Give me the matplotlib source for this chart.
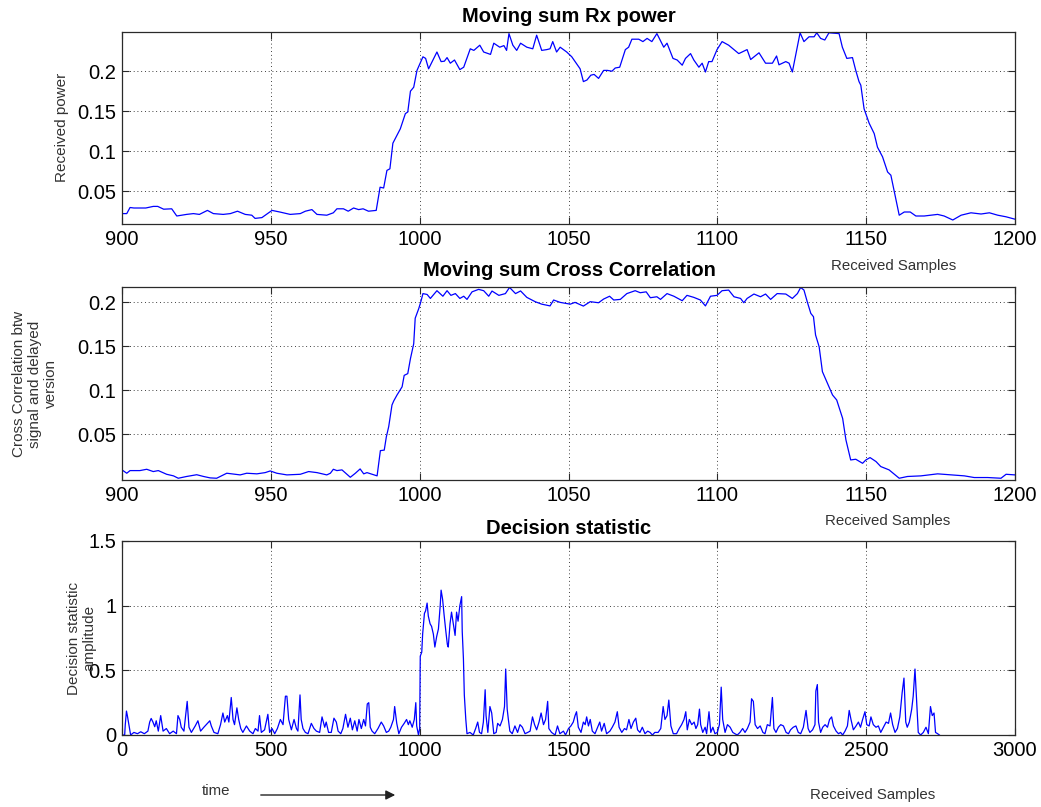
import matplotlib
matplotlib.use("Agg")
import matplotlib.pyplot as plt
from matplotlib.ticker import FuncFormatter

plt.rcParams['font.family'] = ['Liberation Sans', 'DejaVu Sans']

# ---- Moving sum of received power (samples 900..1200) ----
power_samples = [
    900, 901.6, 902.7, 904, 908, 910.5, 912, 914, 916.7, 918.4, 921.7, 924, 926,
    928.7, 930.7, 934, 936.4, 938.8, 941.4, 943.6, 944.7, 947, 950.4, 953, 956.5,
    959.9, 961.6, 963.8, 965.5, 968.8, 971, 972.2, 974.4, 976, 977.8, 979.5, 981,
    982.8, 985.4, 986.7, 987.9, 989, 990, 991, 992.4, 993.5, 995.2, 996, 996.9,
    998, 999.1, 1001.1, 1002, 1003, 1005.8, 1007.2, 1008.3, 1009.2, 1010.3,
    1011.7, 1013.5, 1014.8, 1017, 1018.2, 1020.2, 1021.5, 1023.8, 1024.9, 1026.9,
    1028.3, 1029.2, 1030, 1031.3, 1032.6, 1033.9, 1036, 1038, 1039.3, 1041,
    1042.7, 1043.8, 1044.7, 1046, 1047.2, 1049.4, 1051.1, 1053.9, 1055, 1056.2,
    1057.5, 1058.6, 1060.1, 1061.8, 1063.1, 1064.6, 1065.7, 1067.2, 1069.1,
    1070.2, 1071.3, 1073.6, 1075, 1076.4, 1078, 1079.7, 1082, 1083.1, 1085.1,
    1086.5, 1088.2, 1089.3, 1091, 1092.1, 1093.8, 1094.9, 1096, 1097.1, 1098.2,
    1099.9, 1101.6, 1103.8, 1107.2, 1110, 1111.2, 1114, 1116.2, 1118.5, 1119.9,
    1120.7, 1123, 1124.1, 1125.2, 1126.3, 1127.8, 1129.1, 1130.8, 1132.5,
    1133.4, 1134.7, 1136.1, 1137.5, 1140.9, 1142, 1143.5, 1145.4, 1146.5,
    1147.6, 1148.2, 1149.3, 1151, 1152.7, 1153.8, 1155.5, 1157.2, 1158.3,
    1159.7, 1161.1, 1162.8, 1164.8, 1166.7, 1169.5, 1174, 1176.2, 1179.1,
    1181.9, 1185.2, 1188.6, 1191.4, 1194.2, 1197, 1200,
]
power_values = [
    0.022, 0.022, 0.0296, 0.029, 0.029, 0.031, 0.031, 0.0275, 0.028, 0.019,
    0.021, 0.022, 0.021, 0.026, 0.022, 0.021, 0.022, 0.025, 0.021, 0.020, 0.016,
    0.017, 0.026, 0.024, 0.021, 0.022, 0.025, 0.027, 0.021, 0.020, 0.023, 0.028,
    0.028, 0.025, 0.029, 0.027, 0.028, 0.025, 0.026, 0.055, 0.054, 0.076, 0.078,
    0.110, 0.120, 0.128, 0.147, 0.149, 0.175, 0.180, 0.201, 0.218, 0.216, 0.203,
    0.224, 0.212, 0.2125, 0.217, 0.210, 0.214, 0.202, 0.205, 0.228, 0.226,
    0.2325, 0.224, 0.221, 0.235, 0.230, 0.232, 0.226, 0.247, 0.2325, 0.226,
    0.235, 0.230, 0.228, 0.245, 0.226, 0.227, 0.228, 0.237, 0.224, 0.230, 0.224,
    0.218, 0.203, 0.187, 0.189, 0.195, 0.196, 0.191, 0.201, 0.201, 0.200, 0.204,
    0.205, 0.227, 0.230, 0.240, 0.240, 0.237, 0.241, 0.237, 0.247, 0.230, 0.235,
    0.216, 0.214, 0.2075, 0.216, 0.222, 0.214, 0.205, 0.210, 0.199, 0.212,
    0.212, 0.227, 0.237, 0.2325, 0.222, 0.227, 0.2146, 0.223, 0.210, 0.210,
    0.219, 0.208, 0.212, 0.210, 0.199, 0.220, 0.248, 0.237, 0.243, 0.243, 0.248,
    0.241, 0.239, 0.248, 0.247, 0.230, 0.216, 0.217, 0.201, 0.187, 0.1825,
    0.153, 0.135, 0.122, 0.105, 0.093, 0.074, 0.070, 0.045, 0.020, 0.024, 0.024,
    0.019, 0.019, 0.021, 0.019, 0.014, 0.020, 0.023, 0.0215, 0.023, 0.020,
    0.018, 0.015,
]

# ---- Moving sum of cross correlation with the delayed copy ----
xcorr_samples = [
    900, 901.6, 902.7, 906, 908.3, 910.5, 912.2, 915, 917.3, 918.9, 921.7, 925.1,
    927.4, 929.6, 931.8, 935.2, 939.7, 941.9, 945.3, 948.1, 949.8, 952, 955.4,
    959.9, 962.7, 965.5, 968.8, 970, 971, 972.2, 973.9, 976.7, 978.4, 980,
    981.2, 982.3, 985.7, 986.8, 988.1, 988.8, 989.6, 990.7, 991.3, 992.4,
    994.1, 994.8, 996, 996.9, 998, 998.5, 999.7, 1000.4, 1001.1, 1002.5,
    1003.6, 1005.8, 1007.8, 1009.2, 1010.5, 1012, 1013.5, 1014.8, 1015.9,
    1017.6, 1019.8, 1021.5, 1023.2, 1024.3, 1026.6, 1028.8, 1030.2, 1032.2,
    1033.9, 1036, 1038.8, 1041, 1043.8, 1045, 1047.2, 1050.6, 1052.2, 1055,
    1057.3, 1060.1, 1061.8, 1063.8, 1065.2, 1067.4, 1069.6, 1072.4, 1074.1,
    1076.1, 1077.5, 1079.7, 1080.9, 1083.1, 1085.4, 1088.2, 1089.8, 1092.1,
    1094.3, 1096, 1097.7, 1099.9, 1101.6, 1103.8, 1105.6, 1107.8, 1108.9, 1110,
    1112.3, 1114.5, 1116.2, 1117.9, 1120.1, 1123, 1125.2, 1126.9, 1128,
    1129.1, 1130.2, 1131.4, 1132.3, 1133, 1134.2, 1135.3, 1137, 1138.7, 1140.1,
    1142.1, 1143.2, 1144.8, 1146.5, 1148.8, 1149.9, 1151.3, 1153.3, 1154.9,
    1157.7, 1161.1, 1163.9, 1168.4, 1174, 1178.5, 1183, 1186.3, 1190.8,
    1195.3, 1197, 1200,
]
xcorr_values = [
    0.0095, 0.0057, 0.0087, 0.0087, 0.0102, 0.0076, 0.0087, 0.0045, 0.0027,
    0.0, 0.002, 0.004, 0.002, 0.0004, 0.0, 0.0057, 0.0038, 0.0057, 0.005,
    0.0064, 0.0083, 0.0057, 0.0038, 0.0045, 0.0076, 0.0064, 0.0038, 0.0057,
    0.0102, 0.0087, 0.0095, 0.0011, 0.0057, 0.0106, 0.005, 0.0064, 0.0027,
    0.0314, 0.032, 0.047, 0.0587, 0.0833, 0.088, 0.0947, 0.104, 0.117, 0.119,
    0.136, 0.153, 0.182, 0.193, 0.2008, 0.210, 0.209, 0.2045, 0.2133, 0.207,
    0.2133, 0.208, 0.210, 0.2045, 0.207, 0.2034, 0.212, 0.2148, 0.2133, 0.207,
    0.2129, 0.208, 0.210, 0.217, 0.210, 0.213, 0.2057, 0.2008, 0.198, 0.196,
    0.2027, 0.200, 0.198, 0.200, 0.1958, 0.2008, 0.1996, 0.2038, 0.207, 0.2027,
    0.2034, 0.210, 0.2133, 0.211, 0.212, 0.2053, 0.2064, 0.2034, 0.210, 0.207,
    0.2019, 0.208, 0.2057, 0.2027, 0.196, 0.207, 0.208, 0.2133, 0.214, 0.2064,
    0.2045, 0.1996, 0.2045, 0.2095, 0.2064, 0.2095, 0.2034, 0.210, 0.2095,
    0.2045, 0.210, 0.217, 0.214, 0.2008, 0.1875, 0.1837, 0.1629, 0.1496,
    0.1212, 0.108, 0.0947, 0.089, 0.068, 0.0436, 0.0208, 0.0216, 0.017, 0.0208,
    0.0235, 0.019, 0.0133, 0.0095, 0.0, 0.002, 0.0027, 0.005, 0.0038, 0.0027,
    0.0008, 0.0008, 0.0, 0.0045, 0.0038,
]

# ---- Decision statistic over the whole received block ----
stat_samples = [
    0, 9, 11, 15, 18, 29, 40, 52, 63, 75, 87, 93, 98, 104, 110, 115, 122, 130,
    138, 149, 160, 172, 183, 188, 194, 199, 208, 219, 225, 233, 246, 255, 264,
    275, 287, 295, 300, 309, 322, 331, 339, 345, 354, 359, 367, 373, 378, 386,
    392, 399, 406, 418, 429, 440, 448, 457, 462, 468, 479, 490, 496, 504, 513,
    522, 532, 541, 549, 554, 560, 569, 578, 586, 591, 598, 602, 608, 616, 625,
    636, 645, 653, 664, 672, 681, 686, 694, 703, 712, 720, 726, 735, 742, 751,
    759, 767, 774, 782, 790, 796, 804, 812, 818, 824, 829, 834, 840, 849, 860,
    871, 879, 888, 896, 903, 912, 916, 923, 930, 939, 948, 956, 962, 967, 975,
    982, 987, 990, 996, 1000, 1002, 1007, 1010, 1016, 1020, 1025, 1029, 1035,
    1040, 1046, 1051, 1057, 1063, 1069, 1072, 1077, 1082, 1088, 1093, 1096,
    1102, 1107, 1113, 1119, 1124, 1129, 1135, 1141, 1143, 1147, 1150, 1155,
    1159, 1169, 1180, 1188, 1195, 1201, 1208, 1214, 1220, 1223, 1229, 1236,
    1242, 1249, 1257, 1262, 1270, 1278, 1285, 1289, 1294, 1298, 1303, 1311,
    1320, 1329, 1337, 1345, 1354, 1363, 1371, 1379, 1386, 1393, 1401, 1408,
    1416, 1423, 1430, 1434, 1443, 1455, 1463, 1471, 1483, 1490, 1500, 1508,
    1516, 1522, 1527, 1533, 1542, 1550, 1556, 1561, 1567, 1573, 1580, 1589,
    1598, 1605, 1611, 1620, 1628, 1639, 1647, 1656, 1664, 1670, 1679, 1688,
    1695, 1703, 1710, 1718, 1726, 1732, 1740, 1748, 1757, 1766, 1774, 1782,
    1790, 1801, 1810, 1818, 1824, 1831, 1837, 1844, 1852, 1863, 1872, 1880,
    1888, 1894, 1899, 1906, 1914, 1922, 1928, 1934, 1940, 1944, 1951, 1959,
    1964, 1972, 1978, 1985, 1992, 2000, 2007, 2013, 2018, 2026, 2034, 2043,
    2052, 2059, 2067, 2076, 2085, 2093, 2101, 2110, 2115, 2121, 2127, 2135,
    2144, 2153, 2160, 2168, 2177, 2185, 2190, 2197, 2205, 2213, 2222, 2231,
    2239, 2246, 2255, 2264, 2272, 2280, 2289, 2298, 2305, 2311, 2320, 2328,
    2331, 2336, 2340, 2347, 2354, 2362, 2370, 2377, 2384, 2390, 2399, 2407,
    2414, 2421, 2429, 2437, 2443, 2449, 2457, 2466, 2474, 2481, 2488, 2496,
    2502, 2510, 2516, 2524, 2533, 2541, 2549, 2558, 2567, 2575, 2582, 2589,
    2597, 2605, 2613, 2621, 2627, 2633, 2638, 2645, 2653, 2658, 2664, 2669,
    2675, 2683, 2692, 2701, 2709, 2716, 2722, 2728, 2733, 2740, 2746,
]
stat_values = [
    0.0, 0.0, 0.08, 0.185, 0.15, 0.0, 0.02, 0.01, 0.025, 0.01, 0.03, 0.10,
    0.128, 0.10, 0.064, 0.11, 0.03, 0.15, 0.03, 0.05, 0.01, 0.03, 0.01, 0.15,
    0.12, 0.06, 0.03, 0.26, 0.06, 0.02, 0.07, 0.11, 0.03, 0.06, 0.09, 0.11,
    0.07, 0.02, 0.01, 0.08, 0.17, 0.10, 0.15, 0.10, 0.29, 0.12, 0.08, 0.21,
    0.12, 0.05, 0.02, 0.07, 0.03, 0.01, 0.05, 0.03, 0.15, 0.02, 0.04, 0.16,
    0.02, 0.05, 0.01, 0.05, 0.12, 0.08, 0.30, 0.30, 0.12, 0.04, 0.12, 0.05,
    0.03, 0.31, 0.12, 0.05, 0.02, 0.01, 0.09, 0.05, 0.03, 0.02, 0.14, 0.06,
    0.10, 0.02, 0.02, 0.13, 0.10, 0.03, 0.01, 0.05, 0.16, 0.06, 0.13, 0.04,
    0.11, 0.03, 0.12, 0.05, 0.12, 0.07, 0.24, 0.25, 0.06, 0.03, 0.01, 0.05,
    0.10, 0.07, 0.02, 0.03, 0.06, 0.12, 0.22, 0.09, 0.01, 0.06, 0.09, 0.12,
    0.08, 0.11, 0.06, 0.12, 0.25, 0.07, 0.0, 0.05, 0.61, 0.64, 0.78, 0.94,
    0.96, 1.02, 0.92, 0.86, 0.84, 0.78, 0.68, 0.76, 0.82, 1.0, 1.12, 1.05,
    0.93, 0.80, 0.70, 0.68, 0.86, 0.95, 0.86, 0.77, 0.95, 0.88, 1.0, 1.07,
    0.80, 0.59, 0.31, 0.12, 0.01, 0.02, 0.0, 0.05, 0.10, 0.02, 0.01, 0.10,
    0.35, 0.15, 0.02, 0.22, 0.17, 0.01, 0.02, 0.09, 0.07, 0.12, 0.22, 0.51,
    0.20, 0.12, 0.03, 0.01, 0.07, 0.02, 0.08, 0.06, 0.01, 0.02, 0.03, 0.14,
    0.08, 0.04, 0.10, 0.17, 0.08, 0.12, 0.26, 0.05, 0.02, 0.0, 0.07, 0.01,
    0.03, 0.0, 0.05, 0.07, 0.10, 0.15, 0.18, 0.06, 0.02, 0.10, 0.08, 0.14,
    0.07, 0.12, 0.03, 0.01, 0.06, 0.10, 0.03, 0.09, 0.01, 0.03, 0.06, 0.10,
    0.18, 0.06, 0.02, 0.05, 0.04, 0.12, 0.05, 0.10, 0.13, 0.04, 0.02, 0.06,
    0.01, 0.03, 0.02, 0.0, 0.02, 0.02, 0.05, 0.22, 0.12, 0.15, 0.27, 0.07,
    0.01, 0.01, 0.05, 0.08, 0.12, 0.18, 0.04, 0.12, 0.08, 0.10, 0.05, 0.08,
    0.20, 0.08, 0.02, 0.06, 0.01, 0.18, 0.02, 0.06, 0.01, 0.02, 0.08, 0.37,
    0.12, 0.02, 0.08, 0.06, 0.02, 0.01, 0.0, 0.02, 0.05, 0.02, 0.05, 0.10,
    0.28, 0.26, 0.08, 0.05, 0.07, 0.02, 0.01, 0.08, 0.07, 0.29, 0.05, 0.02,
    0.06, 0.08, 0.07, 0.02, 0.01, 0.04, 0.06, 0.07, 0.02, 0.01, 0.06, 0.19,
    0.05, 0.02, 0.04, 0.08, 0.34, 0.39, 0.10, 0.02, 0.06, 0.08, 0.06, 0.12,
    0.14, 0.07, 0.03, 0.01, 0.02, 0.0, 0.03, 0.07, 0.19, 0.12, 0.04, 0.07,
    0.10, 0.06, 0.12, 0.18, 0.08, 0.07, 0.14, 0.08, 0.06, 0.07, 0.02, 0.06,
    0.10, 0.09, 0.17, 0.08, 0.02, 0.05, 0.14, 0.33, 0.44, 0.10, 0.06, 0.10,
    0.20, 0.30, 0.51, 0.28, 0.02, 0.0, 0.02, 0.06, 0.01, 0.22, 0.15, 0.17,
    0.02, 0.01, 0.0,
]

zoom_xticks = [900, 950, 1000, 1050, 1100, 1150, 1200]
power_yticks = [0.05, 0.1, 0.15, 0.2]
xcorr_yticks = [0.05, 0.1, 0.15, 0.2]
stat_xticks = [0, 500, 1000, 1500, 2000, 2500, 3000]
stat_yticks = [0, 0.5, 1, 1.5]

W, H = 1041, 807
fig = plt.figure(figsize=(W / 100, H / 100), dpi=100)
fig.patch.set_facecolor('white')


def px_box(left, top, right, bottom):
    return [left / W, 1 - bottom / H, (right - left) / W, (bottom - top) / H]


def style_axes(ax):
    for s in ax.spines.values():
        s.set_color('#2a2a2a')
        s.set_linewidth(0.9)
    ax.tick_params(direction='in', length=5, width=0.8, colors='#2a2a2a',
                   labelcolor='black', labelsize=14.5, pad=4,
                   top=True, right=True)
    ax.grid(True, color='black', linestyle=(0, (1, 3.5)), linewidth=0.6)
    ax.set_axisbelow(True)
    ax.yaxis.set_major_formatter(FuncFormatter(lambda v, p: f"{v:g}"))
    ax.xaxis.set_major_formatter(FuncFormatter(lambda v, p: f"{v:g}"))


LINE = dict(color='#0000ff', linewidth=0.9)

ax1 = fig.add_axes(px_box(122, 32, 1015, 224))
ax1.plot(power_samples, power_values, **LINE)
ax1.set_xlim(900, 1200)
ax1.set_ylim(0.009, 0.249)
ax1.set_xticks(zoom_xticks)
ax1.set_yticks(power_yticks)
style_axes(ax1)

ax2 = fig.add_axes(px_box(122, 287, 1015, 480))
ax2.plot(xcorr_samples, xcorr_values, **LINE)
ax2.set_xlim(900, 1200)
ax2.set_ylim(-0.002, 0.2175)
ax2.set_xticks(zoom_xticks)
ax2.set_yticks(xcorr_yticks)
style_axes(ax2)

ax3 = fig.add_axes(px_box(122, 541, 1015, 735))
ax3.plot(stat_samples, stat_values, **LINE)
ax3.set_xlim(0, 3000)
ax3.set_ylim(0, 1.5)
ax3.set_xticks(stat_xticks)
ax3.set_yticks(stat_yticks)
style_axes(ax3)


def ftext(x, y, s, **kw):
    fig.text(x / W, 1 - y / H, s, ha='center', va='center', **kw)


TITLE = dict(fontsize=14.5, fontweight='bold', color='black')
ftext(569, 16, 'Moving sum Rx power', **TITLE)
ftext(569, 271, 'Moving sum Cross Correlation', **TITLE)
ftext(569, 528, 'Decision statistic', **TITLE)

LABEL = dict(fontsize=10.8, color='#333333')
ftext(894, 266, 'Received Samples', **LABEL)
ftext(888, 521, 'Received Samples', **LABEL)
ftext(873, 795, 'Received Samples', **LABEL)

YLABEL = dict(fontsize=11, color='#333333')
ftext(62, 127, 'Received power', rotation=90, **YLABEL)
ftext(35, 384, 'Cross Correlation btw\nsignal and delayed\nversion',
      rotation=90, multialignment='center', linespacing=1.15, **YLABEL)
ftext(82, 638, 'Decision statistic\namplitude', rotation=90,
      multialignment='center', linespacing=1.15, **YLABEL)

ftext(216, 791, 'time', **LABEL)
fig.add_artist(matplotlib.patches.FancyArrowPatch(
    (258 / W, 1 - 795 / H), (398 / W, 1 - 795 / H),
    transform=fig.transFigure, arrowstyle='-|>', mutation_scale=14,
    color='#222222', linewidth=1.0))

fig.savefig('out.png', dpi=100, facecolor='white')
